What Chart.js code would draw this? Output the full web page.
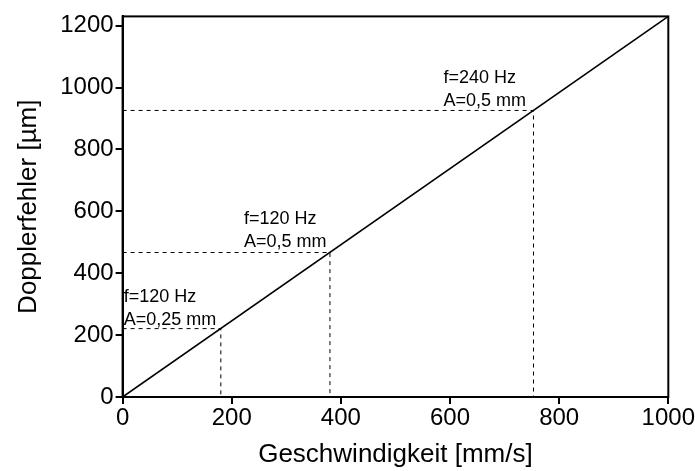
<!DOCTYPE html>
<html>
<head>
<meta charset="utf-8">
<script src="https://cdn.jsdelivr.net/npm/chart.js@4"></script>
<style>
  html, body { margin: 0; padding: 0; background: #fff; }
  #wrap { width: 695px; height: 471px; }
</style>
</head>
<body>
<div id="wrap"><canvas id="dopplerCanvas"></canvas></div>
<script>
// data
const speedRange = [0, 1000];
const errorRange = [0, 1230];
const markSpeed = [180, 380, 753];
const markError = [221, 467, 926];
const markLabels = [["f=120 Hz", "A=0,25 mm"], ["f=120 Hz", "A=0,5 mm"], ["f=240 Hz", "A=0,5 mm"]];
const xTicks = [0, 200, 400, 600, 800, 1000];
const yTicks = [0, 200, 400, 600, 800, 1000, 1200];

const mainLine = {
    data: speedRange.map((s, i) => ({ x: s, y: errorRange[i] })),
    borderColor: "#000",
    borderWidth: 1.6,
    pointRadius: 0
};

const dashedLines = markSpeed.map((s, i) => ({
    data: [{ x: 0, y: markError[i] }, { x: s, y: markError[i] }, { x: s, y: 0 }],
    borderColor: "#000",
    borderWidth: 1,
    borderDash: [4, 4],
    pointRadius: 0
}));

// annotation text offsets (pixels, relative to the mark point)
const labelOffsets = [[-97, -27], [-86, -28], [-90, -27]];

const framePlugin = {
    id: "frame",
    afterDraw(chart) {
        const { ctx, chartArea: a, scales } = chart;
        ctx.save();
        ctx.strokeStyle = "#000";
        ctx.lineWidth = 2;
        ctx.strokeRect(a.left, a.top, a.right - a.left, a.bottom - a.top);
        ctx.fillStyle = "#000";
        ctx.font = "18px 'Liberation Sans', Arial, sans-serif";
        ctx.textBaseline = "alphabetic";
        markLabels.forEach((lines, i) => {
            const px = scales.x.getPixelForValue(markSpeed[i]) + labelOffsets[i][0];
            const py = scales.y.getPixelForValue(markError[i]) + labelOffsets[i][1];
            lines.forEach((t, j) => ctx.fillText(t, px, py + j * 23));
        });
        ctx.restore();
    }
};

const tickFont = { family: "'Liberation Sans', Arial, sans-serif", size: 24 };
const titleFont = { family: "'Liberation Sans', Arial, sans-serif", size: 26 };

new Chart(document.getElementById("dopplerCanvas"), {
    type: "line",
    data: { datasets: [mainLine, ...dashedLines] },
    options: {
        responsive: true,
        maintainAspectRatio: false,
        animation: false,
        layout: { padding: { top: 14, right: 26, left: 13, bottom: 0 } },
        plugins: { legend: { display: false }, tooltip: { enabled: false } },
        scales: {
            x: {
                type: "linear",
                min: speedRange[0],
                max: speedRange[1],
                afterBuildTicks: s => { s.ticks = xTicks.map(v => ({ value: v })); },
                grid: { drawOnChartArea: false, color: "#000", tickLength: 7, lineWidth: 2 },
                border: { color: "#000", width: 2 },
                ticks: { color: "#000", font: tickFont, padding: 0, maxRotation: 0, callback: v => String(v) },
                title: { display: true, text: "Geschwindigkeit [mm/s]", color: "#000", font: titleFont, padding: { top: 6, bottom: 1 } }
            },
            y: {
                type: "linear",
                min: errorRange[0],
                max: errorRange[1],
                afterBuildTicks: s => { s.ticks = yTicks.map(v => ({ value: v })); },
                grid: { drawOnChartArea: false, color: "#000", tickLength: 7, lineWidth: 2 },
                border: { color: "#000", width: 2 },
                ticks: { color: "#000", font: tickFont, padding: 2, callback: v => String(v) },
                title: { display: true, text: "Dopplerfehler [µm]", color: "#000", font: titleFont, padding: { top: 0, bottom: 14 } }
            }
        }
    },
    plugins: [framePlugin]
});
</script>
</body>
</html>
